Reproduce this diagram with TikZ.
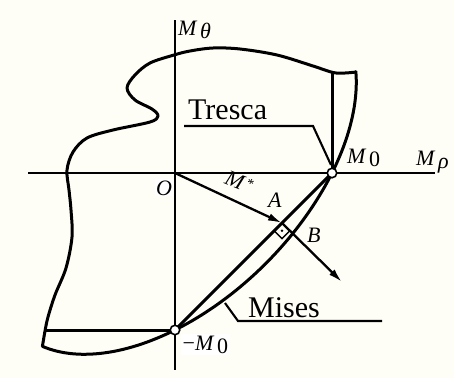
\documentclass[tikz,border=0pt]{standalone}
\usepackage{fontspec}
\setmainfont{Liberation Serif}
\usetikzlibrary{arrows.meta,calc}
\definecolor{bgcream}{RGB}{255,254,246}
\newcommand{\lowsub}[1]{\,\raisebox{-0.35ex}{#1}}
\begin{document}
\begin{tikzpicture}[x=1pt,y=-1pt,
  curve/.style={line width=3pt, line join=round, line cap=round},
  axisline/.style={line width=2.1pt},
  leader/.style={line width=2.1pt, line join=miter},
  vecarrow/.style={line width=2.3pt, -{Latex[length=14pt,width=7.5pt]}},
  pt/.style={circle, draw, fill=white, inner sep=0pt, minimum size=9.5pt, line width=1.6pt},
  lab/.style={font=\fontsize{22}{24}\selectfont\itshape, inner sep=0pt, anchor=base west},
  bigtxt/.style={font=\fontsize{30}{32}\selectfont, inner sep=0pt, anchor=base west}]
\fill[bgcream] (0,0) rectangle (454,378);
\useasboundingbox (0,0) rectangle (454,378);
% key points
\coordinate (O) at (175,173);
\coordinate (M0) at (332,173);
\coordinate (mM0) at (175,330);
\coordinate (A) at (282,223);
\coordinate (N) at (342,282);
\coordinate (xl) at (28,173);
\coordinate (xr) at (435,173);
\coordinate (yt) at (175,20);
\coordinate (yb) at (175,370);
\coordinate (tt) at (332,73);
\coordinate (tb) at (45.5,330);
% axes
\draw[axisline] (xl) -- (xr);
\draw[axisline] (yt) -- (yb);
% outer boundary: Mises ellipse arcs + free curve
\draw[curve] plot[domain=-167:-26, samples=90, variable=\t]
  ({175+157*(cos(\t)-sin(\t)/sqrt(3))},{173-157*(cos(\t)+sin(\t)/sqrt(3))})
  -- plot[smooth, tension=0.55] coordinates {(356,72) (345,73) (333,72.5) (313,66) (277,55) (240,49) (213,48) (190,51) (174,55) (150,63) (135,75) (127,88) (135,100) (152,109) (158,116) (150,122) (113,130) (87,138) (73,152) (67,170) (69,190) (71,210) (72,237) (66,268) (55,295) (48,317) (45,331) (42.4,346.4)};
% Tresca edges
\draw[curve] (M0) -- (tt);
\draw[curve] (mM0) -- (tb);
\draw[curve] (mM0) -- (M0);
% vectors
\draw[vecarrow] (O) -- (A);
\draw[vecarrow] (A) -- (N);
% right-angle mark
\draw[line width=1.3pt] ($(A)+(-7.8,7.8)$) -- ($(A)+(0,15.6)$) -- ($(A)+(7.8,7.8)$);
\fill ($(A)+(0,7.8)$) circle (1.4pt);
% leaders
\coordinate (tl1) at (184,126);
\coordinate (tl2) at (313,126);
\coordinate (tl3) at (331,165);
\draw[leader] (tl1) -- (tl2) -- (tl3);
\coordinate (ml1) at (382,321);
\coordinate (ml2) at (238,321);
\coordinate (ml3) at (225,303);
\draw[leader] (ml1) -- (ml2) -- (ml3);
% points
\node[pt] (p1) at (M0) {};
\node[pt] (p2) at (mM0) {};
% labels
\node[bigtxt] (tres) at (188,119) {Tresca};
\node[bigtxt] (mis) at (248,317) {Mises};
\node[lab] (lth) at (178,35) {M\lowsub{θ}};
\node[lab] (lrho) at (416,165) {M\lowsub{ρ}};
\node[lab] (lm0) at (347,163) {M\lowsub{\textup{0}}};
\node[lab, fill=white, inner sep=1.5pt] (lmm0) at (181,350) {\textup{−}M\lowsub{\textup{0}}};
\node[lab, fill=white, inner sep=1pt] (lo) at (155,195) {O};
\node[lab] (la) at (268,207) {A};
\node[lab] (lb) at (307,242) {B};
\node[font=\fontsize{22}{24}\selectfont\itshape, inner sep=0pt, rotate=-22] (lms) at (239,182) {M\kern2pt\raisebox{0.55ex}{\fontsize{14}{14}\selectfont *}};
\end{tikzpicture}
\end{document}
